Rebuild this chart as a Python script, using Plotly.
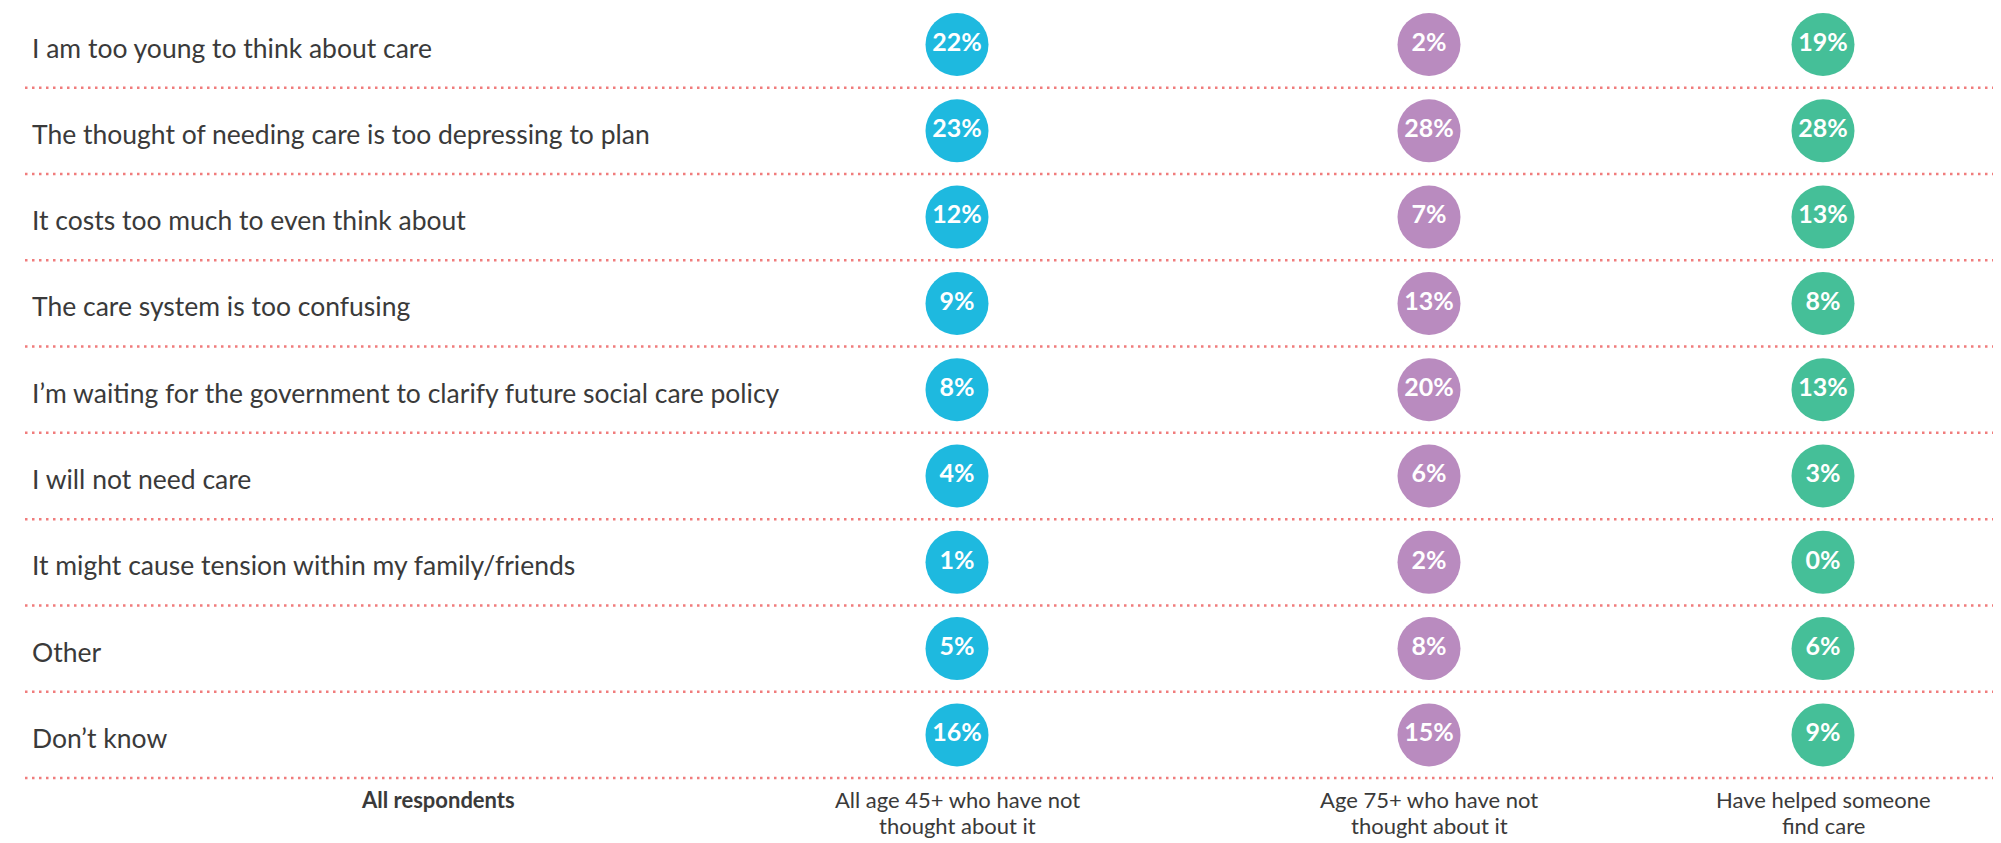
import plotly.graph_objects as go

categories = [
    "I am too young to think about care",
    "The thought of needing care is too depressing to plan",
    "It costs too much to even think about",
    "The care system is too confusing",
    "I\u2019m waiting for the government to clarify future social care policy",
    "I will not need care",
    "It might cause tension within my family/friends",
    "Other",
    "Don\u2019t know",
]
groups = [
    ["All age 45+ who have not", "thought about it"],
    ["Age 75+ who have not", "thought about it"],
    ["Have helped someone", "find care"],
]
all_45 = [22, 23, 12, 9, 8, 4, 1, 5, 16]
age_75 = [2, 28, 7, 13, 20, 6, 2, 8, 15]
helped = [19, 28, 13, 8, 13, 3, 0, 6, 9]
header_left = "All respondents"

series = [all_45, age_75, helped]
colors = ["#1EB9DF", "#B98BBF", "#45BF98"]
col_x = [957, 1429, 1823]
FONT = "Lato, 'Open Sans', sans-serif"
TEXT = "#3a3a3a"

# the page body has an 8px margin, so the axes are shifted to land on page pixels
PAGE_MARGIN = 8
W, H = 2001, 843
ROW0 = 44.5      # page y of first row centre
ROW_H = 86.3     # row pitch in px


def page_to_row(py):
    return (py - ROW0) / ROW_H


rows = list(range(len(categories)))

fig = go.Figure()
for vals, cx, color in zip(series, col_x, colors):
    fig.add_trace(go.Scatter(
        x=[cx] * len(vals), y=rows,
        mode="markers+text",
        marker=dict(size=63, color=color, line=dict(width=0)),
        text=[f"{v}%" for v in vals],
        textposition="middle center",
        textfont=dict(family=FONT, size=25, color="white", weight=700),
        hoverinfo="skip", showlegend=False,
    ))

# row labels
for i, label in enumerate(categories):
    fig.add_annotation(x=30, y=i, text=label, showarrow=False, xanchor="left",
                       yanchor="middle", yshift=-3,
                       font=dict(family=FONT, size=26.5, color=TEXT))

# dotted separators below each row
for i in rows:
    fig.add_shape(type="line", x0=25, x1=W + PAGE_MARGIN, y0=i + 0.5, y1=i + 0.5,
                  line=dict(color="#F07C7C", width=2.5, dash="2.5px,4.5px"))

# bottom column labels
line_y = [page_to_row(799), page_to_row(825)]
fig.add_annotation(x=438, y=line_y[0], text=f"<b>{header_left}</b>", showarrow=False,
                   yanchor="middle", font=dict(family=FONT, size=22, color=TEXT))
for lines, cx in zip(groups, col_x):
    for txt, ly in zip(lines, line_y):
        fig.add_annotation(x=cx, y=ly, text=txt, showarrow=False, yanchor="middle",
                           font=dict(family=FONT, size=22, color=TEXT))

fig.update_layout(
    width=W, height=H,
    margin=dict(l=0, r=0, t=0, b=0),
    paper_bgcolor="white", plot_bgcolor="white",
    xaxis=dict(range=[PAGE_MARGIN, W + PAGE_MARGIN], visible=False, fixedrange=True),
    yaxis=dict(range=[page_to_row(H + PAGE_MARGIN), page_to_row(PAGE_MARGIN)],
               visible=False, fixedrange=True),
)

fig.write_html("out.html")
